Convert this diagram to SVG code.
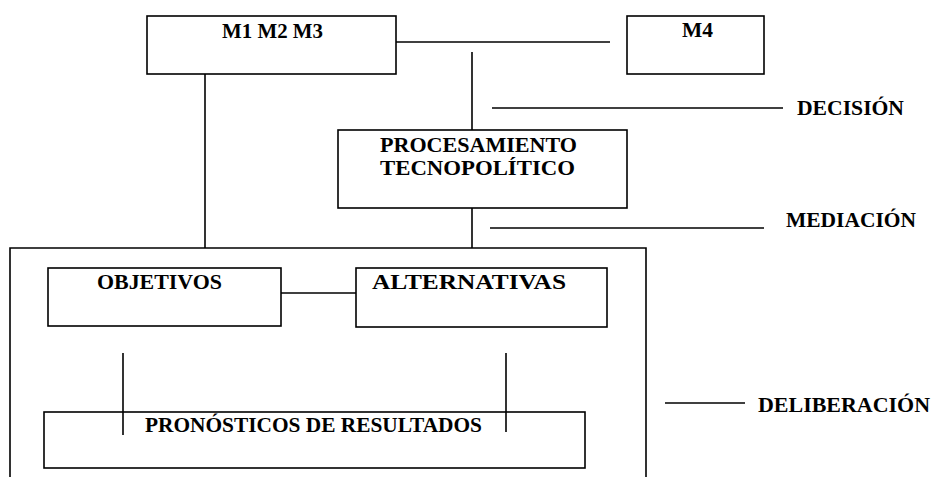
<svg xmlns="http://www.w3.org/2000/svg" width="940" height="477" viewBox="0 0 940 477">
<style>
.box{fill:none;stroke:#000;stroke-width:1.6}
.ln{fill:none;stroke:#000;stroke-width:1.6}
text{font-family:"Liberation Serif","Times New Roman",serif;font-weight:bold;font-size:20px;fill:#000}
</style>
<rect width="940" height="477" fill="#fff"/>
<g id="connectors">
<line class="ln" x1="396" y1="42" x2="610" y2="42"/>
<line class="ln" x1="472" y1="52" x2="472" y2="130"/>
<line class="ln" x1="472" y1="208" x2="472" y2="248"/>
<line class="ln" x1="205" y1="74" x2="205" y2="248"/>
<line class="ln" x1="281" y1="293" x2="356" y2="293"/>
<line class="ln" x1="123" y1="353" x2="123" y2="435"/>
<line class="ln" x1="506" y1="353" x2="506" y2="432"/>
<line class="ln" x1="492" y1="108" x2="783" y2="108"/>
<line class="ln" x1="490" y1="228" x2="764" y2="228"/>
<line class="ln" x1="665" y1="403" x2="745" y2="403"/>
</g>
<g id="deliberacion-frame">
<path class="box" d="M10,477 V248 H646 V477"/>
</g>
<g id="m1m2m3">
<rect class="box" x="147" y="16" width="249" height="58"/>
<text x="222" y="38" textLength="101" lengthAdjust="spacingAndGlyphs">M1 M2 M3</text>
</g>
<g id="m4">
<rect class="box" x="627" y="16" width="137" height="58"/>
<text x="682" y="37" textLength="31" lengthAdjust="spacingAndGlyphs">M4</text>
</g>
<g id="procesamiento">
<rect class="box" x="338" y="130" width="289" height="78"/>
<text x="380" y="152" textLength="197" lengthAdjust="spacingAndGlyphs">PROCESAMIENTO</text>
<text x="380" y="175" textLength="195" lengthAdjust="spacingAndGlyphs">TECNOPOLÍTICO</text>
</g>
<g id="objetivos">
<rect class="box" x="48" y="268" width="233" height="58"/>
<text x="97" y="289" textLength="125" lengthAdjust="spacingAndGlyphs">OBJETIVOS</text>
</g>
<g id="alternativas">
<rect class="box" x="356" y="268" width="251" height="59"/>
<text x="372" y="289" textLength="194" lengthAdjust="spacingAndGlyphs">ALTERNATIVAS</text>
</g>
<g id="pronosticos">
<rect class="box" x="44" y="412" width="541" height="56"/>
<text x="145" y="432" textLength="337" lengthAdjust="spacingAndGlyphs">PRONÓSTICOS DE RESULTADOS</text>
</g>
<g id="labels">
<text x="797" y="115" textLength="107" lengthAdjust="spacingAndGlyphs">DECISIÓN</text>
<text x="786" y="227" textLength="130" lengthAdjust="spacingAndGlyphs">MEDIACIÓN</text>
<text x="758" y="412" textLength="172" lengthAdjust="spacingAndGlyphs">DELIBERACIÓN</text>
</g>
</svg>
